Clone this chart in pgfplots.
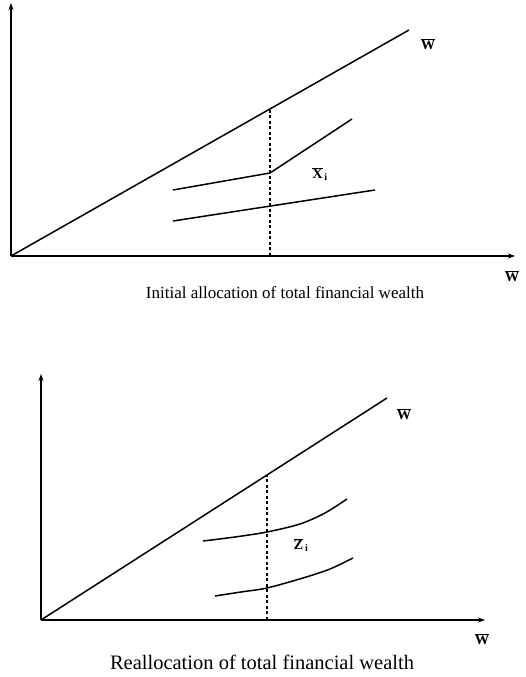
\documentclass[border=0pt]{standalone}
\usepackage{fontspec}
\setmainfont{Liberation Serif}
\usepackage{pgfplots}
\pgfplotsset{compat=1.18}
\usetikzlibrary{arrows.meta}
\begin{document}
\begin{tikzpicture}[x=1pt,y=1pt]
\useasboundingbox (0,0) rectangle (525,677);
\pgfplotsset{
  every axis/.append style={
    x=1pt, y=1pt, axis lines=left, ticks=none, enlargelimits=false, clip=false,
    axis line style={line width=1.4pt, -{Stealth[length=7pt,width=5pt]}},
  },
  curve/.style={black, line width=1.5pt, no marks},
  dotl/.style={black, line width=1.5pt, no marks, dash pattern=on 3pt off 2.5pt},
}
% ---------- panel 1 ----------
\begin{axis}[at={(11pt,421pt)}, anchor=south west, xmin=11, xmax=515, ymin=421, ymax=674]
\addplot[curve] coordinates {(11,421) (409,647)};
\addplot[dotl] coordinates {(270,421) (270,568)};
\addplot[curve] coordinates {(173,487) (270,504) (352,558)};
\addplot[curve] coordinates {(173,456) (375,487)};
\node at (axis cs:428,633) {\Large$\overline{\mathbf{W}}$};
\node at (axis cs:320,503) {\Large$\overline{\mathbf{X}}_{\,\mathbf{i}}$};
\node at (axis cs:512,401) {\Large$\overline{\mathbf{W}}$};
\node at (axis cs:285,384) {\fontsize{17}{20}\selectfont Initial allocation of total financial wealth};
\end{axis}
% ---------- panel 2 ----------
\begin{axis}[at={(41pt,57pt)}, anchor=south west, xmin=41, xmax=485, ymin=57, ymax=303]
\addplot[curve] coordinates {(41,57) (387,279)};
\addplot[dotl] coordinates {(267,57) (267,202)};
\addplot[curve, smooth] coordinates {(203,136) (235,140) (267,145) (300,153) (325,164) (347,178)};
\addplot[curve, smooth] coordinates {(215,81) (241,85) (267,89) (303,99) (330,108) (353,119)};
\node at (axis cs:404,263) {\Large$\overline{\mathbf{W}}$};
\node at (axis cs:301,132) {\Large$\overline{\mathbf{Z}}_{\,\mathbf{i}}$};
\node at (axis cs:482,38) {\Large$\overline{\mathbf{W}}$};
\node at (axis cs:262,15) {\fontsize{20.5}{24}\selectfont Reallocation of total financial wealth};
\end{axis}
\end{tikzpicture}
\end{document}
